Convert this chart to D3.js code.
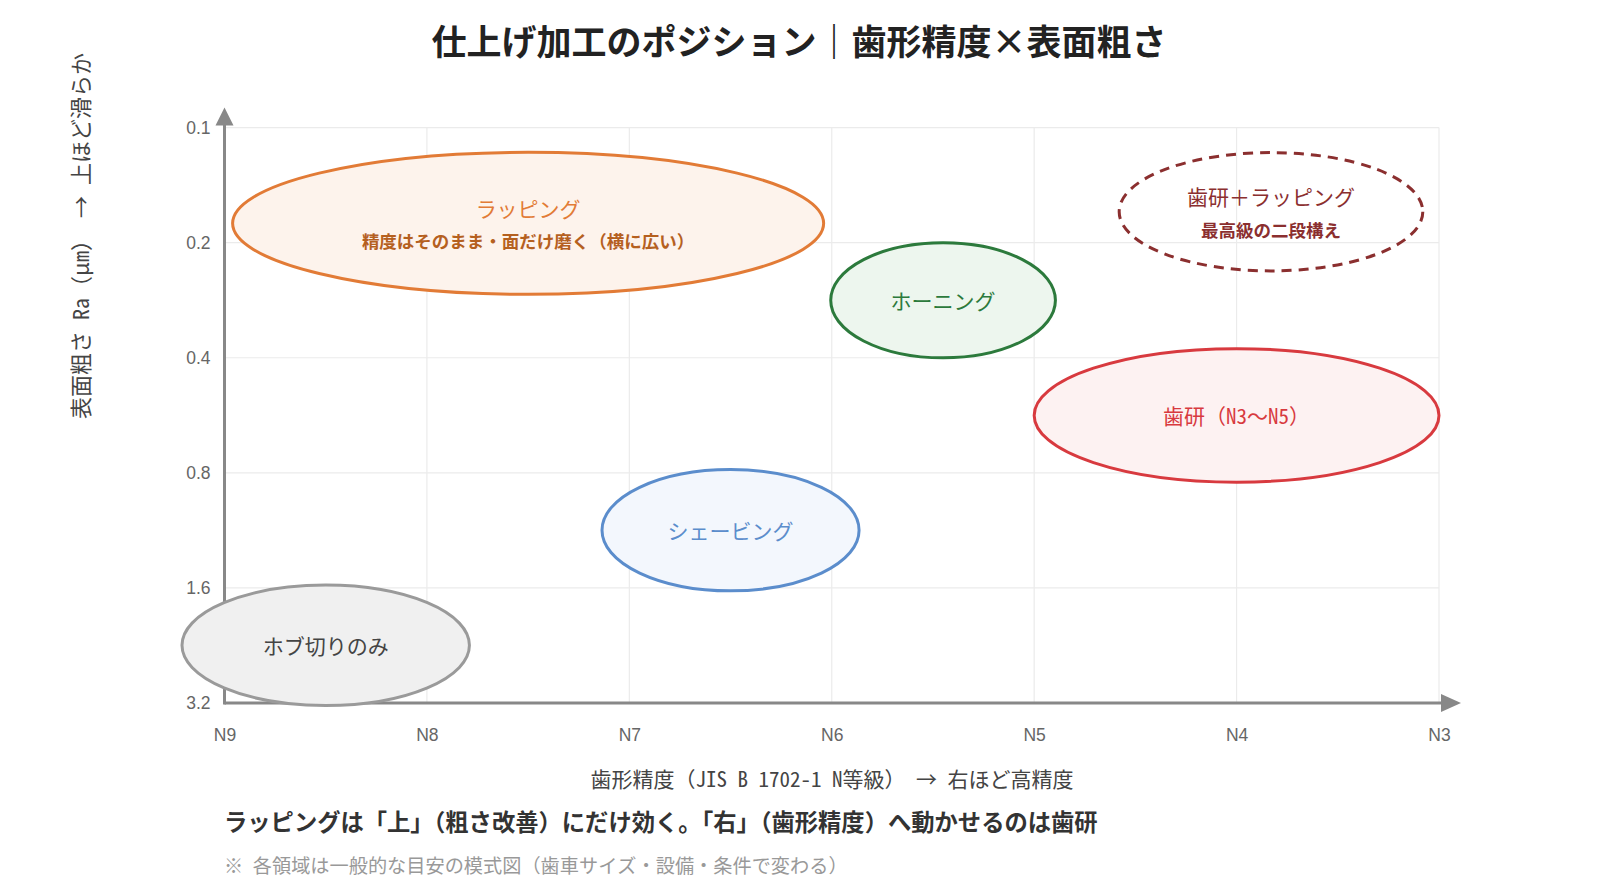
<!DOCTYPE html>
<html>
<head>
<meta charset="UTF-8">
<script src="https://d3js.org/d3.v7.min.js"></script>
<style>
  body { margin: 0; background: #fff; }
  svg text { font-family: "Noto Sans Mono CJK JP", "Noto Sans CJK JP", sans-serif; }
</style>
</head>
<body>
<script>
// regions (grade = JIS N grade, ra = surface roughness um)
const regionNames  = ["ラッピング", "歯研＋ラッピング", "ホーニング", "歯研（N3～N5）", "シェービング", "ホブ切りのみ"];
const regionSubs   = ["精度はそのまま・面だけ磨く（横に広い）", "最高級の二段構え", "", "", "", ""];
const regionGrade  = [7.5, 3.83, 5.45, 4.0, 6.5, 8.5];
const regionRa     = [0.178, 0.166, 0.283, 0.566, 1.13, 2.26];
const regionGradeW = [1.46, 0.75, 0.555, 1.0, 0.635, 0.71];   // half width, in grades
const regionRaH    = [0.617, 0.514, 0.50, 0.58, 0.527, 0.523]; // half height, in octaves

const xTicks = [9, 8, 7, 6, 5, 4, 3];
const yTicks = [0.1, 0.2, 0.4, 0.8, 1.6, 3.2];

const strokes = ["#e27b36", "#8b2f2f", "#2c7a3c", "#d83a3f", "#5b8dcc", "#9a9a9a"];
const fills   = ["#fdf3ec", "none", "#edf6ee", "#fdf2f2", "#f3f7fd", "#f0f0f0"];
const txtCol  = ["#e27b36", "#8b2f2f", "#2c7a3c", "#d83a3f", "#5b8dcc", "#444"];
const subCol  = ["#b5601f", "#8b2f2f"];

const W = 1600, H = 896;
const svg = d3.select("body").append("svg").attr("width", W).attr("height", H);

const x = d3.scaleLinear().domain([9, 3]).range([224.5, 1439]);
const y = d3.scaleLog().base(2).domain([3.2, 0.1]).range([703, 127.6]);

// title
svg.append("text")
  .attr("x", 799).attr("y", 55)
  .attr("text-anchor", "middle")
  .attr("font-size", 35).attr("font-weight", "bold").attr("fill", "#222")
  .text("仕上げ加工のポジション｜歯形精度×表面粗さ");

// grid
svg.append("g").selectAll("line").data(xTicks.slice(1)).enter().append("line")
  .attr("x1", d => x(d)).attr("x2", d => x(d))
  .attr("y1", y(0.1)).attr("y2", y(3.2))
  .attr("stroke", "#ebebeb").attr("stroke-width", 1.2);
svg.append("g").selectAll("line").data(yTicks.slice(0, -1)).enter().append("line")
  .attr("x1", x(9)).attr("x2", x(3))
  .attr("y1", d => y(d)).attr("y2", d => y(d))
  .attr("stroke", "#ebebeb").attr("stroke-width", 1.2);

// ticks
const xAxis = svg.append("g")
  .attr("transform", "translate(0," + y(3.2) + ")")
  .call(d3.axisBottom(x).tickValues(xTicks).tickFormat(d => "N" + d).tickSize(0).tickPadding(26));
const yAxis = svg.append("g")
  .attr("transform", "translate(" + x(9) + ",0)")
  .call(d3.axisLeft(y).tickValues(yTicks).tickFormat(d => d).tickSize(0).tickPadding(14));
[xAxis, yAxis].forEach(g => {
  g.select(".domain").remove();
  g.selectAll("text").attr("font-size", 17.5).attr("fill", "#666")
    .style("font-family", "'Liberation Sans', Arial, sans-serif");
});

// axes with arrows
svg.append("line")
  .attr("x1", x(9)).attr("x2", x(3) + 4)
  .attr("y1", y(3.2)).attr("y2", y(3.2))
  .attr("stroke", "#888").attr("stroke-width", 3);
svg.append("path")
  .attr("d", "M" + (x(3) + 22) + "," + y(3.2) + " l-20,-9 l0,18 z")
  .attr("fill", "#888");
svg.append("line")
  .attr("x1", x(9)).attr("x2", x(9))
  .attr("y1", y(3.2) + 1.5).attr("y2", y(0.1) - 4)
  .attr("stroke", "#888").attr("stroke-width", 3);
svg.append("path")
  .attr("d", "M" + x(9) + "," + (y(0.1) - 20) + " l-9,18 l18,0 z")
  .attr("fill", "#888");

// regions
const reg = svg.append("g").selectAll("g").data(regionNames).enter().append("g");
reg.append("ellipse")
  .attr("cx", (d, i) => x(regionGrade[i]))
  .attr("cy", (d, i) => y(regionRa[i]))
  .attr("rx", (d, i) => Math.abs(x(regionGrade[i] - regionGradeW[i]) - x(regionGrade[i])))
  .attr("ry", (d, i) => Math.abs(y(regionRa[i]) - y(regionRa[i] * Math.pow(2, regionRaH[i]))))
  .attr("fill", (d, i) => fills[i])
  .attr("stroke", (d, i) => strokes[i])
  .attr("stroke-width", 3)
  .attr("stroke-dasharray", (d, i) => i == 1 ? "10,7" : null);
reg.append("text")
  .attr("x", (d, i) => x(regionGrade[i]))
  .attr("y", (d, i) => y(regionRa[i]) + (regionSubs[i] ? -14 : 1))
  .attr("dy", "0.35em")
  .attr("text-anchor", "middle")
  .attr("font-size", 21).attr("font-weight", 500)
  .attr("fill", (d, i) => txtCol[i])
  .text(d => d);
reg.filter((d, i) => regionSubs[i]).append("text")
  .attr("x", (d, i) => x(regionGrade[i]))
  .attr("y", (d, i) => y(regionRa[i]) + 19)
  .attr("dy", "0.35em")
  .attr("text-anchor", "middle")
  .attr("font-size", 17.5).attr("font-weight", "bold")
  .attr("fill", (d, i) => subCol[i])
  .text((d, i) => regionSubs[i]);

// axis titles
svg.append("text")
  .attr("x", 832).attr("y", 787)
  .attr("text-anchor", "middle")
  .attr("font-size", 21).attr("fill", "#444")
  .text("歯形精度（JIS B 1702-1 N等級）　→ 右ほど高精度");
svg.append("text")
  .attr("transform", "translate(89,236) rotate(-90)")
  .attr("text-anchor", "middle")
  .attr("font-size", 22).attr("fill", "#444")
  .text("表面粗さ Ra（μm）　→ 上ほど滑らか");

// notes
svg.append("text")
  .attr("x", 224).attr("y", 831)
  .attr("font-size", 23.3).attr("font-weight", 600).attr("fill", "#333")
  .text("ラッピングは「上」（粗さ改善）にだけ効く。「右」（歯形精度）へ動かせるのは歯研");
svg.append("text")
  .attr("x", 224).attr("y", 873)
  .attr("font-size", 19.2).attr("fill", "#999")
  .text("※ 各領域は一般的な目安の模式図（歯車サイズ・設備・条件で変わる）");
</script>
</body>
</html>
